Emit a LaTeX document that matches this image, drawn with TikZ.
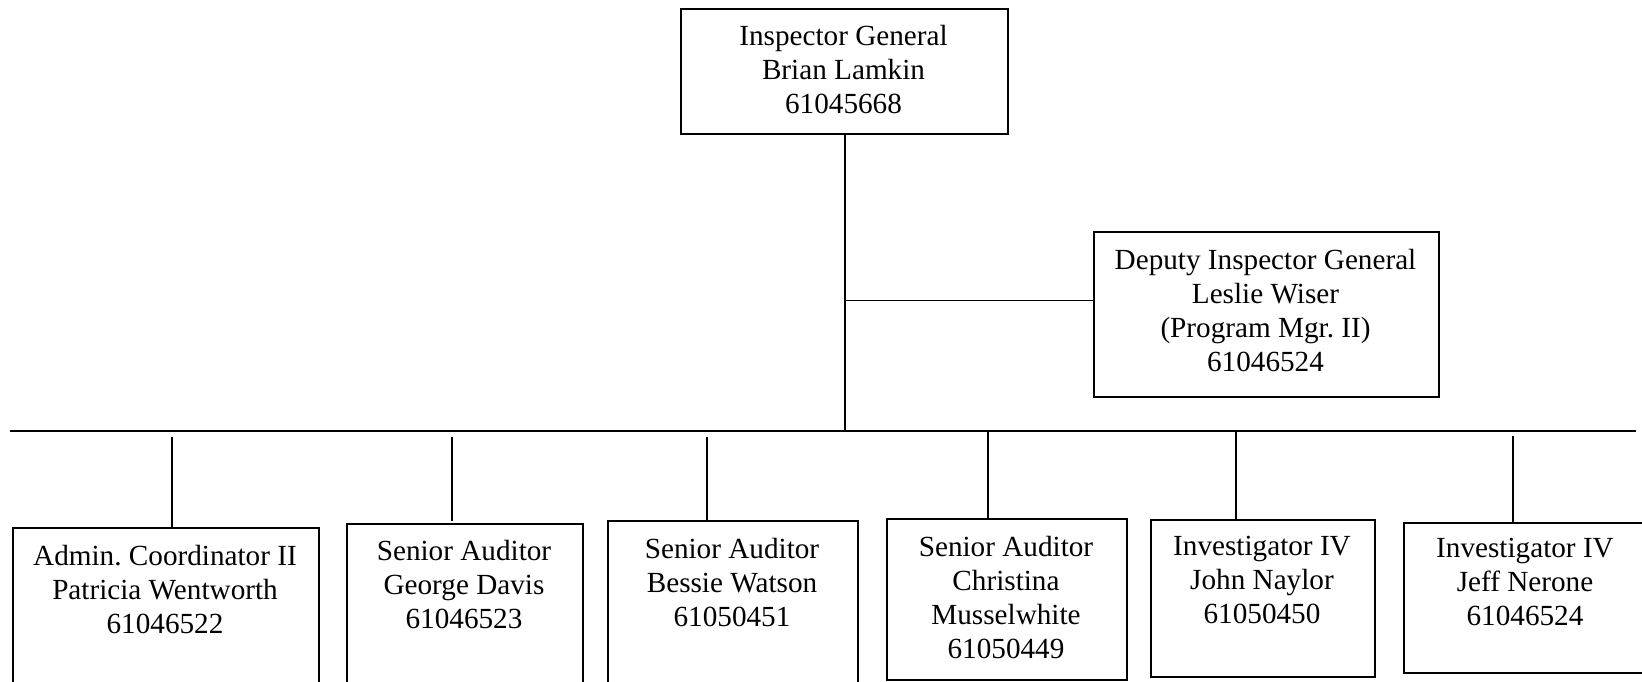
\documentclass[tikz,border=0pt]{standalone}
\usepackage{fontspec}
\setmainfont{Liberation Serif}
\frenchspacing
\begin{document}
\begin{tikzpicture}[x=0.5pt,y=-0.5pt,
  box/.style={draw=black,line width=1pt,inner sep=0pt,anchor=north west},
  txt/.style={align=center,inner sep=0pt,anchor=north,font=\fontsize{14.6pt}{17pt}\selectfont},
  conn/.style={draw=black,line width=0.9pt},
  bus/.style={draw=black,line width=1.1pt}]
\useasboundingbox (0,0) rectangle (1642,681);
\clip (0,0) rectangle (1642,681);
\fill[white] (0,0) rectangle (1642,681);
% top boxes
\node[box,minimum width=163.5pt,minimum height=62.5pt] (ig) at (680,8) {};
\node[txt] (igt) at (843.5,25) {Inspector General\\Brian Lamkin\\61045668};
\node[box,minimum width=172.5pt,minimum height=82.5pt] (dep) at (1093,231) {};
\node[txt] (dept) at (1265.5,249) {Deputy Inspector General\\Leslie Wiser\\(Program Mgr. II)\\61046524};
% bus
\coordinate (busL) at (10,431);
\coordinate (busR) at (1636,431);
\coordinate (busC) at (845,431);
\coordinate (depJ) at (845,300.5);
\draw[bus] (busL) -- (busR);
\draw[conn] (ig.south -| busC) -- (busC);
\draw[conn] (depJ) -- (dep.west |- depJ);
% bottom boxes
\node[box,minimum width=153pt,minimum height=90pt] (b1) at (12,527) {};
\node[txt] (b1t) at (165,545) {Admin. Coordinator II\\Patricia Wentworth\\61046522};
\node[box,minimum width=118pt,minimum height=90pt] (b2) at (346,523) {};
\node[txt] (b2t) at (464,540) {Senior Auditor\\George Davis\\61046523};
\node[box,minimum width=125pt,minimum height=90pt] (b3) at (607,520) {};
\node[txt] (b3t) at (732,538) {Senior Auditor\\Bessie Watson\\61050451};
\node[box,minimum width=120pt,minimum height=80.5pt] (b4) at (886,518) {};
\node[txt] (b4t) at (1006,536) {Senior Auditor\\Christina\\Musselwhite\\61050449};
\node[box,minimum width=112pt,minimum height=78.5pt] (b5) at (1150,519) {};
\node[txt] (b5t) at (1262,536) {Investigator IV\\John Naylor\\61050450};
\node[box,minimum width=125pt,minimum height=75pt] (b6) at (1403,522) {};
\node[txt] (b6t) at (1525,538) {Investigator IV\\Jeff Nerone\\61046524};
% drops
\coordinate (d1) at (172,437);
\coordinate (d2) at (452,437);
\coordinate (d3) at (707,437);
\coordinate (d4) at (988,431);
\coordinate (d5) at (1236,432);
\coordinate (d6) at (1513,436);
\draw[conn] (d1) -- (d1 |- b1.north);
\draw[conn] (d2) -- ([yshift=1pt]d2 |- b2.north);
\draw[conn] (d3) -- (d3 |- b3.north);
\draw[conn] (d4) -- (d4 |- b4.north);
\draw[conn] (d5) -- (d5 |- b5.north);
\draw[conn] (d6) -- (d6 |- b6.north);
\end{tikzpicture}
\end{document}
